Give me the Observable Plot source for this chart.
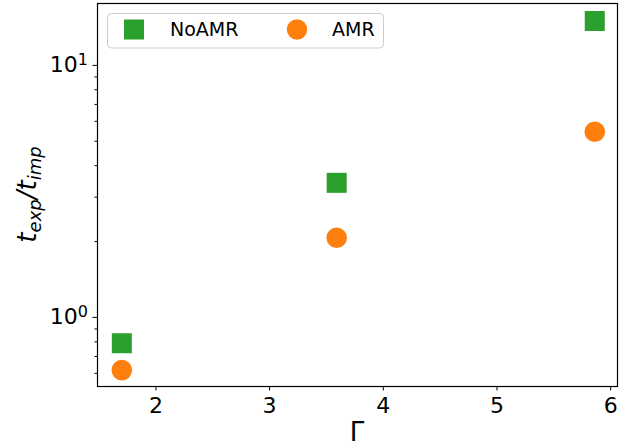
<!DOCTYPE html>
<html>
<head>
<meta charset="utf-8">
<script src="https://cdn.jsdelivr.net/npm/d3@7"></script>
<script src="https://cdn.jsdelivr.net/npm/@observablehq/plot@0.6"></script>
<style>
  html, body { margin: 0; padding: 0; background: white; }
  #chart { width: 637px; height: 446px; }
</style>
</head>
<body>
<div id="chart"></div>
<script>
// Data
const gamma = [1.70, 3.59, 5.86];
const noAMR = [0.79, 3.42, 15.0];
const amr = [0.618, 2.07, 5.45];
const seriesNames = ["NoAMR", "AMR"];
const seriesColors = ["#2ca02c", "#ff7f0e"];
const xTicks = [2, 3, 4, 5, 6];
const yMajorTicks = [1, 10];
const yMinorTicks = [0.6, 0.7, 0.8, 0.9, 2, 3, 4, 5, 6, 7, 8, 9];

const noData = gamma.map((g, i) => ({x: g, y: noAMR[i]}));
const amrData = gamma.map((g, i) => ({x: g, y: amr[i]}));

const chart = Plot.plot({
  width: 637,
  height: 446,
  marginLeft: 97,
  marginRight: 20,
  marginTop: 3,
  marginBottom: 60,
  style: {fontFamily: "DejaVu Sans", fontSize: "22px", color: "black", background: "white"},
  x: {domain: [1.486, 6.06]},
  y: {type: "log", domain: [0.532, 17.6]},
  marks: [
    Plot.axisX({ticks: xTicks, tickSize: 4.5, tickPadding: 6, tickFormat: d => String(d), label: null, fontSize: 22}),
    Plot.axisY({ticks: yMajorTicks, tickSize: 4.5, tickPadding: 5, tickFormat: d => "10|" + Math.round(Math.log10(d)), label: null, fontSize: 22}),
    Plot.axisY({ticks: yMinorTicks, tickSize: 2.5, tickFormat: () => "", label: null}),
    Plot.dot(noData, {x: "x", y: "y", symbol: "square", r: 11.3, fill: seriesColors[0]}),
    Plot.dot(amrData, {x: "x", y: "y", symbol: "circle", r: 10.3, fill: seriesColors[1]}),
    Plot.frame({stroke: "black", strokeWidth: 1.2})
  ]
});
document.getElementById("chart").appendChild(chart);

const svg = d3.select(chart);

// superscript exponents on y tick labels
svg.selectAll("g[aria-label='y-axis tick label'] text").each(function() {
  const t = d3.select(this);
  const s = t.text();
  if (s.includes("|")) {
    const [base, exp] = s.split("|");
    t.text(null);
    t.append("tspan").text(base);
    t.append("tspan").attr("dy", "-0.45em").attr("font-size", "16px").text(exp);
  }
});

// axis labels
svg.append("text")
  .attr("x", 357).attr("y", 440.5)
  .attr("text-anchor", "middle")
  .attr("font-family", "DejaVu Sans")
  .attr("font-size", 26)
  .attr("fill", "black")
  .text("Γ");

const yl = svg.append("text")
  .attr("transform", "translate(36,194.5) rotate(-90)")
  .attr("text-anchor", "middle")
  .attr("font-family", "DejaVu Sans")
  .attr("font-style", "italic")
  .attr("font-size", 26)
  .attr("fill", "black");
yl.append("tspan").text("t");
yl.append("tspan").attr("font-size", 18).attr("dy", 5).text("exp");
yl.append("tspan").attr("dy", -5).text("/t");
yl.append("tspan").attr("font-size", 18).attr("dy", 5).text("imp");

// legend
const lg = svg.append("g");
lg.append("rect")
  .attr("x", 107.5).attr("y", 13.5).attr("width", 276).attr("height", 34.5)
  .attr("rx", 4).attr("fill", "white").attr("fill-opacity", 0.8)
  .attr("stroke", "#cccccc").attr("stroke-width", 1);
lg.append("path")
  .attr("transform", "translate(134,29.5)")
  .attr("d", d3.symbol(d3.symbolSquare, 20 * 20)())
  .attr("fill", seriesColors[0]);
lg.append("circle").attr("cx", 297).attr("cy", 29.5).attr("r", 10.2).attr("fill", seriesColors[1]);
lg.append("text").attr("x", 170).attr("y", 36).attr("text-anchor", "start").attr("font-family", "DejaVu Sans").attr("font-size", 19).attr("fill", "black").text(seriesNames[0]);
lg.append("text").attr("x", 332).attr("y", 36).attr("text-anchor", "start").attr("font-family", "DejaVu Sans").attr("font-size", 19).attr("fill", "black").text(seriesNames[1]);
</script>
</body>
</html>
